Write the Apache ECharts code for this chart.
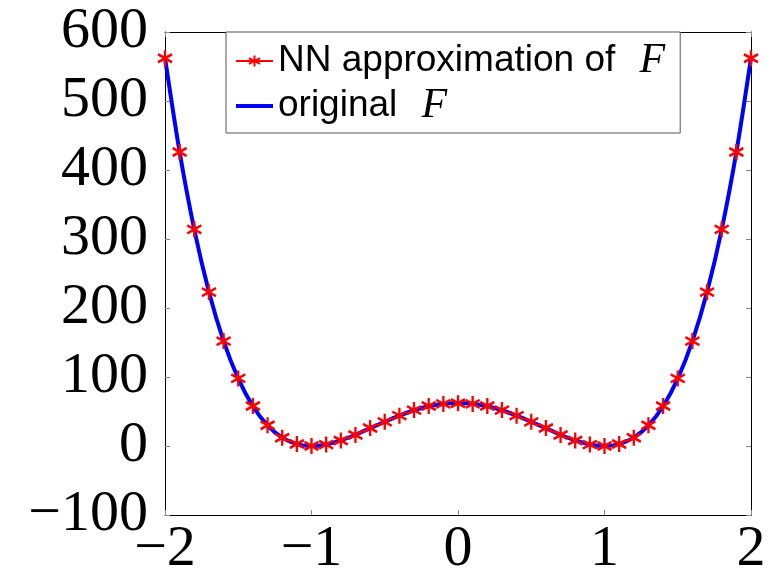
<!DOCTYPE html>
<html>
<head>
<meta charset="utf-8">
<script src="https://cdn.jsdelivr.net/npm/echarts@6/dist/echarts.min.js"></script>
<style>
  html, body { margin: 0; padding: 0; background: #fff; }
  #chart { width: 775px; height: 571px; }
</style>
</head>
<body>
<div id="chart"></div>
<script>
// Sample positions along x
const xValues = [-2.0, -1.9, -1.8, -1.7, -1.6, -1.5, -1.4, -1.3, -1.2, -1.1, -1.0,
                 -0.9, -0.8, -0.7, -0.6, -0.5, -0.4, -0.3, -0.2, -0.1, 0.0,
                  0.1, 0.2, 0.3, 0.4, 0.5, 0.6, 0.7, 0.8, 0.9, 1.0,
                  1.1, 1.2, 1.3, 1.4, 1.5, 1.6, 1.7, 1.8, 1.9, 2.0];

// Network output at the sample positions
const nnValues = [562, 426, 314, 223, 152, 98, 58, 30, 12, 3, 0,
                  2, 8, 16, 26, 35, 44, 52, 58, 61, 62,
                  61, 58, 52, 44, 35, 26, 16, 8, 2, 0,
                  3, 12, 30, 58, 98, 152, 223, 314, 426, 562];

// Exact function values at the sample positions
const originalValues = [562.5, 425.8, 313.6, 223.3, 152.1, 97.7, 57.6, 29.8, 12.1, 2.8, 0.0,
                        2.3, 8.1, 16.3, 25.6, 35.2, 44.1, 51.8, 57.6, 61.3, 62.5,
                        61.3, 57.6, 51.8, 44.1, 35.2, 25.6, 16.3, 8.1, 2.3, 0.0,
                        2.8, 12.1, 29.8, 57.6, 97.7, 152.1, 223.3, 313.6, 425.8, 562.5];

const yTicks = { min: -100, max: 600, step: 100 };
const xTicks = { min: -2, max: 2, step: 1 };

const seriesNames = ['NN approximation of F', 'original F'];

const pair = (xs, ys) => xs.map((x, i) => [x, ys[i]]);
const minus = v => String(v).replace('-', '\u2212');

const asterisk = 'path://M0,-10L0,10M-8.66,-5L8.66,5M-8.66,5L8.66,-5';
const tickFont = { fontFamily: 'Liberation Serif', fontSize: 58, color: '#000' };

const baseAxis = {
  type: 'value',
  axisLine: { show: true, onZero: false, lineStyle: { color: '#000', width: 1 } },
  axisTick: { show: true, inside: true, length: 5, lineStyle: { color: '#888', width: 1 } },
  splitLine: { show: false }
};

const chart = echarts.init(document.getElementById('chart'), null, { renderer: 'canvas' });

chart.setOption({
  animation: false,
  backgroundColor: '#fff',
  grid: { left: 165, right: 24, top: 32, bottom: 56, containLabel: false, outerBoundsMode: 'none' },
  legend: {
    left: 226,
    top: 32,
    orient: 'vertical',
    align: 'left',
    itemWidth: 37,
    itemHeight: 14,
    itemGap: 3,
    padding: [8, 15, 6, 9],
    borderColor: '#555',
    borderWidth: 1,
    backgroundColor: '#fff',
    data: [
      { name: seriesNames[0], lineStyle: { color: '#ff0000', width: 2, opacity: 1 } },
      { name: seriesNames[1], icon: 'path://M0,0H37V4H0Z', itemStyle: { color: '#0000ff' } }
    ],
    formatter: name => '{t|' + name.slice(0, -1) + '}{f|F}',
    textStyle: {
      lineHeight: 40,
      rich: {
        t: { fontFamily: 'Liberation Sans', fontSize: 37, color: '#000', lineHeight: 40 },
        f: { fontFamily: 'Liberation Serif', fontStyle: 'italic', fontSize: 42, color: '#000',
             lineHeight: 40, padding: [0, 0, 0, 14] }
      }
    }
  },
  xAxis: [
    Object.assign({}, baseAxis, {
      position: 'bottom',
      min: xTicks.min, max: xTicks.max, interval: xTicks.step,
      axisLabel: Object.assign({ margin: 6, formatter: minus }, tickFont)
    }),
    Object.assign({}, baseAxis, {
      position: 'top',
      min: xTicks.min, max: xTicks.max, interval: xTicks.step,
      axisLabel: { show: false }
    })
  ],
  yAxis: [
    Object.assign({}, baseAxis, {
      position: 'left',
      min: yTicks.min, max: yTicks.max, interval: yTicks.step,
      axisLabel: Object.assign({ margin: 17, formatter: minus }, tickFont)
    }),
    Object.assign({}, baseAxis, {
      position: 'right',
      min: yTicks.min, max: yTicks.max, interval: yTicks.step,
      axisLabel: { show: false }
    })
  ],
  series: [
    {
      name: seriesNames[0],
      type: 'line',
      data: pair(xValues, nnValues),
      z: 4,
      symbol: asterisk,
      symbolSize: [14, 16],
      symbolKeepAspect: false,
      showAllSymbol: true,
      lineStyle: { color: '#ff0000', width: 2, opacity: 0 },
      itemStyle: { color: '#ff0000', borderColor: '#ff0000', borderWidth: 2.5 },
      emphasis: { disabled: true }
    },
    {
      name: seriesNames[1],
      type: 'line',
      data: pair(xValues, originalValues),
      z: 3,
      smooth: 0.3,
      showSymbol: false,
      symbol: 'none',
      lineStyle: { color: '#0000ff', width: 4 },
      itemStyle: { color: '#0000ff' },
      emphasis: { disabled: true }
    }
  ]
});
</script>
</body>
</html>
